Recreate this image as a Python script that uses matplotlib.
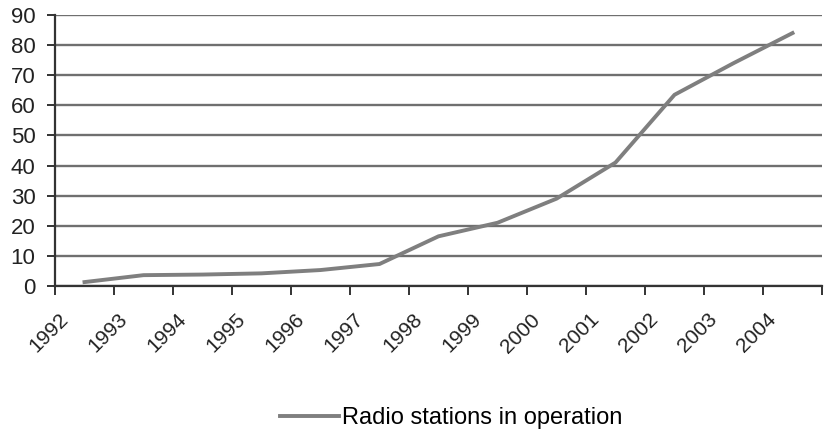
import matplotlib
matplotlib.use("Agg")
import matplotlib.pyplot as plt
import numpy as np

years = ["1992", "1993", "1994", "1995", "1996", "1997", "1998",
         "1999", "2000", "2001", "2002", "2003", "2004"]
stations = [1.3, 3.6, 3.8, 4.2, 5.3, 7.3, 16.5, 21, 29, 41, 63.5, 74, 84]
series_name = "Radio stations in operation"
y_ticks = list(range(0, 91, 10))

plt.rcParams['font.family'] = ['Liberation Sans', 'DejaVu Sans']

fig = plt.figure(figsize=(8.25, 4.33), dpi=100)
ax = fig.add_axes([55/825, 1-286/433, (822-55)/825, (286-15)/433])

n = len(years)
xpos = np.arange(n) + 0.5
ax.plot(xpos, stations, color='#7f7f7f', lw=2.8, label=series_name,
        solid_joinstyle='round', zorder=3)

ax.set_xlim(0, n)
ax.set_ylim(0, 90)
ax.set_yticks(y_ticks)
ax.set_yticklabels([str(v) for v in y_ticks], fontsize=16, color='#222222')
ax.yaxis.grid(True, color='#6f6f6f', lw=1.7)
ax.set_axisbelow(True)

# tick marks at category boundaries, labels offset
ax.set_xticks(np.arange(n + 1), minor=True)
ax.set_xticks(np.arange(n) + 0.17)
ax.set_xticklabels(years, fontsize=15, color='#222222', rotation=45,
                   ha='right', va='center', rotation_mode='anchor')
ax.tick_params(axis='x', which='major', length=0, pad=22)
ax.tick_params(axis='x', which='minor', length=6.5, width=1.4, color='#333333')
ax.tick_params(axis='y', length=6, width=1.4, color='#333333', pad=8)

for s in ['top', 'right']:
    ax.spines[s].set_visible(False)
for s in ['left', 'bottom']:
    ax.spines[s].set_color('#333333')
    ax.spines[s].set_linewidth(1.6)

fig.legend(loc='center', bbox_to_anchor=(451/825, 1-418/433), frameon=False,
           fontsize=17, handlelength=2.5, handletextpad=0.1)

fig.savefig('out.png', dpi=100)
